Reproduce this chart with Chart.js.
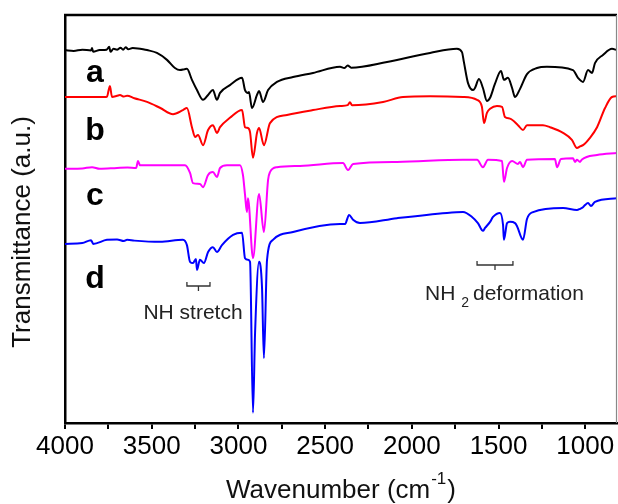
<!DOCTYPE html>
<html>
<head>
<meta charset="utf-8">
<script src="https://cdn.jsdelivr.net/npm/chart.js@4/dist/chart.umd.min.js"></script>
<style>
html,body{margin:0;padding:0;background:#fff;}
#wrap{position:relative;width:618px;height:504px;}
</style>
</head>
<body>
<div id="wrap"><canvas id="c" width="618" height="504"></canvas></div>
<script>
// ---- Data (wavenumber in cm^-1, transmittance in arbitrary offset units) ----
const aWave = [4000,3950,3900,3850,3844,3838,3800,3760,3745,3738,3720,3700,3680,3665,3650,3635,3610,3580,3550,3527,3470,3412,3366,3337,3310,3297,3268,3239,3204,3175,3147,3124,3106,3049,2979,2962,2945,2939,2922,2893,2881,2858,2829,2778,2685,2570,2414,2390,2370,2350,2143,1895,1740,1711,1700,1676,1647,1636,1613,1590,1567,1549,1521,1486,1469,1446,1422,1405,1376,1336,1278,1221,1071,1042,1013,984,961,944,898,846,817];
const aTrans = [91.4,91.2,91.5,91.3,91.9,91.0,91.4,91.5,92.2,91.0,91.7,91.5,92.0,91.5,92.1,91.6,91.9,91.8,91.6,91.4,90.7,89.0,87.0,86.5,86.7,86.8,84.1,81.6,79.2,80.4,81.6,79.2,80.9,82.8,84.6,81.6,80.9,81.1,77.2,80.4,81.4,78.7,81.6,83.6,84.8,85.8,87.3,87.0,87.6,87.1,88.5,90.7,91.7,90.9,88.5,83.3,81.6,82.1,84.3,82.1,78.9,79.7,83.1,86.3,84.1,84.6,82.1,79.9,81.9,85.5,87.0,87.3,86.5,84.6,83.6,86.5,85.8,88.2,90.2,91.7,91.4];

const bWave = [4000,3850,3770,3758,3741,3729,3700,3683,3660,3642,3600,3527,3450,3377,3320,3297,3268,3250,3233,3204,3175,3147,3124,3106,3049,2979,2962,2945,2933,2916,2893,2881,2853,2818,2720,2570,2414,2370,2357,2345,2166,2051,1895,1705,1624,1596,1584,1567,1549,1509,1480,1463,1434,1388,1359,1336,1244,1203,1128,1077,1048,1030,1013,973,932,886,846,817];
const bTrans = [79.9,79.9,79.9,80.0,82.6,79.9,80.2,80.4,80.0,80.2,79.6,78.7,77.2,75.7,76.7,77.2,72.5,70.1,70.6,68.1,71.8,73.0,71.1,72.5,74.8,76.7,72.5,72.3,71.3,65.0,71.1,72.3,68.1,73.5,75.5,76.7,77.7,77.9,78.6,77.9,78.7,79.9,80.1,79.9,79.2,77.5,73.5,76.0,77.0,77.7,77.5,75.0,74.6,73.0,71.8,73.0,73.0,72.5,71.1,69.4,67.4,67.8,68.1,69.9,72.5,77.2,79.9,80.1];

const cWave = [4000,3900,3844,3800,3700,3640,3590,3579,3568,3452,3308,3279,3262,3222,3204,3175,3147,3124,3106,3066,2991,2974,2962,2951,2945,2916,2881,2853,2829,2818,2778,2645,2397,2368,2339,2086,1705,1624,1590,1561,1480,1469,1451,1422,1388,1376,1359,1336,1175,1163,1140,1071,1059,1048,1030,1019,932,817];
const cTrans = [62.3,62.4,62.7,62.3,62.5,62.6,62.5,64.2,63.2,63.2,63.2,61.3,58.8,58.6,57.8,60.8,61.5,60.3,62.5,63.2,63.2,60.8,56.0,51.7,55.1,40.4,56.1,46.8,59.6,61.5,62.7,63.0,63.7,62.0,63.5,64.0,64.5,64.5,62.7,64.5,64.2,59.1,62.5,64.2,63.5,64.0,62.7,64.5,64.7,62.7,64.7,64.9,64.0,64.5,64.0,64.6,65.7,66.2];

const dWave = [4000,3900,3850,3844,3838,3758,3700,3660,3642,3600,3452,3320,3297,3279,3262,3245,3239,3222,3199,3175,3147,3124,3095,3031,2979,2962,2945,2933,2916,2904,2881,2864,2853,2835,2801,2685,2414,2385,2362,2339,2299,2086,1797,1705,1653,1619,1590,1578,1549,1532,1492,1474,1469,1451,1434,1405,1394,1359,1336,1301,1128,1048,1030,1013,1002,984,967,944,817];
const dTrans = [43.9,44.1,44.8,44.4,43.9,44.9,45.0,44.6,44.9,44.7,44.4,44.9,43.6,39.5,39.2,40.2,37.5,40.0,39.2,41.9,43.1,41.9,43.6,46.1,46.6,40.4,40.0,39.5,2.5,22.1,39.5,33.3,15.9,40.0,44.9,46.8,48.8,48.8,51.0,49.8,49.0,50.2,51.5,51.7,50.5,49.0,47.1,47.8,49.3,50.5,51.5,48.5,44.9,49.0,49.3,49.0,48.3,44.9,50.0,51.7,52.7,52.2,52.5,52.9,53.4,53.9,53.2,54.2,55.1];

const seriesLabels = ['a','b','c','d'];
const seriesColors = ['#000000','#ff0000','#ff00ff','#0000ff'];
const xTickValues = [4000,3750,3500,3250,3000,2750,2500,2250,2000,1750,1500,1250,1000];
const xTitle = 'Wavenumber (cm';
const xTitleSup = '-1';
const yTitle = 'Transmittance (a.u.)';

const FONT = '"Liberation Sans", Arial, Helvetica, sans-serif';

function toPts(w, t){ return w.map((x,i)=>({x:x, y:t[i]})); }

const datasets = [[aWave,aTrans],[bWave,bTrans],[cWave,cTrans],[dWave,dTrans]].map((p,i)=>({
  label: seriesLabels[i],
  data: toPts(p[0], p[1]),
  borderColor: seriesColors[i],
  borderWidth: 2,
  pointRadius: 0,
  cubicInterpolationMode: 'monotone',
  fill: false
}));

const decor = {
  id: 'decor',
  afterDraw(chart){
    const ctx = chart.ctx;
    const ca = chart.chartArea;
    const xs = chart.scales.x;
    ctx.save();
    // frame top & right
    ctx.strokeStyle = '#000';
    ctx.lineWidth = 2.5;
    ctx.beginPath(); ctx.moveTo(ca.left-1, ca.top); ctx.lineTo(ca.right, ca.top); ctx.stroke();
    ctx.strokeStyle = '#888';
    ctx.lineWidth = 1.2;
    ctx.beginPath(); ctx.moveTo(ca.right-0.5, ca.top); ctx.lineTo(ca.right-0.5, ca.bottom); ctx.stroke();

    // series letters
    ctx.fillStyle = '#000';
    ctx.font = 'bold 32px ' + FONT;
    ctx.textAlign = 'center';
    ctx.textBaseline = 'alphabetic';
    const letterY = [82, 140, 205, 288];
    seriesLabels.forEach((l,i)=>ctx.fillText(l, 95, letterY[i]));

    // brackets
    ctx.strokeStyle = '#333';
    ctx.lineWidth = 1.3;
    function bracket(w1, w2, y){
      const x1 = xs.getPixelForValue(w1), x2 = xs.getPixelForValue(w2);
      const xm = (x1+x2)/2;
      ctx.beginPath();
      ctx.moveTo(x1, y-4); ctx.lineTo(x1, y); ctx.lineTo(x2, y); ctx.lineTo(x2, y-4);
      ctx.moveTo(xm, y); ctx.lineTo(xm, y+5);
      ctx.stroke();
    }
    bracket(3297, 3164, 286);
    bracket(1624, 1417, 265);

    ctx.fillStyle = '#222';
    ctx.font = '21px ' + FONT;
    ctx.textAlign = 'center';
    ctx.fillText('NH stretch', 193, 319);
    ctx.textAlign = 'left';
    ctx.fillText('NH', 425, 300);
    const nhW = ctx.measureText('NH').width;
    ctx.font = '14px ' + FONT;
    ctx.fillText('2', 425 + nhW + 6, 307);
    ctx.font = '21px ' + FONT;
    ctx.fillText('deformation', 473, 300);

    // axis titles
    ctx.fillStyle = '#111';
    ctx.font = '26px ' + FONT;
    const w1 = ctx.measureText(xTitle).width;
    ctx.font = '17px ' + FONT;
    const w2 = ctx.measureText(xTitleSup).width;
    ctx.font = '26px ' + FONT;
    const w3 = ctx.measureText(')').width;
    const total = w1 + w2 + w3 + 2;
    const x0 = (ca.left + ca.right)/2 - total/2;
    ctx.textAlign = 'left';
    ctx.fillText(xTitle, x0, 498);
    ctx.font = '17px ' + FONT;
    ctx.fillText(xTitleSup, x0 + w1 + 1, 484);
    ctx.font = '26px ' + FONT;
    ctx.fillText(')', x0 + w1 + w2 + 2, 498);

    ctx.translate(23, 232);
    ctx.rotate(-Math.PI/2);
    ctx.textAlign = 'center';
    ctx.textBaseline = 'middle';
    ctx.fillText(yTitle, 0, 0);
    ctx.restore();
  }
};

new Chart(document.getElementById('c'), {
  type: 'line',
  data: { datasets },
  options: {
    responsive: false,
    animation: false,
    devicePixelRatio: 1,
    layout: { padding: { top: 15, right: 1, left: 0, bottom: 0 } },
    plugins: { legend: { display: false }, tooltip: { enabled: false }, title: { display: false } },
    scales: {
      x: {
        type: 'linear',
        reverse: true,
        min: 817,
        max: 4000,
        afterBuildTicks: s => { s.ticks = xTickValues.map(v => ({ value: v })); },
        afterFit: s => { s.height = 81; },
        ticks: {
          callback: v => (v % 500 === 0 ? String(v) : ''),
          font: { size: 26, family: FONT },
          color: '#000',
          maxRotation: 0,
          autoSkip: false,
          padding: 2
        },
        grid: { drawOnChartArea: false, drawTicks: true, tickLength: 6, color: '#000', lineWidth: 2 },
        border: { display: true, color: '#000', width: 2.5 }
      },
      y: {
        min: 0,
        max: 100,
        ticks: { display: false },
        grid: { display: false, drawTicks: false },
        border: { display: true, color: '#000', width: 2.5 },
        afterFit: s => { s.width = 65; }
      }
    }
  },
  plugins: [decor]
});
</script>
</body>
</html>
